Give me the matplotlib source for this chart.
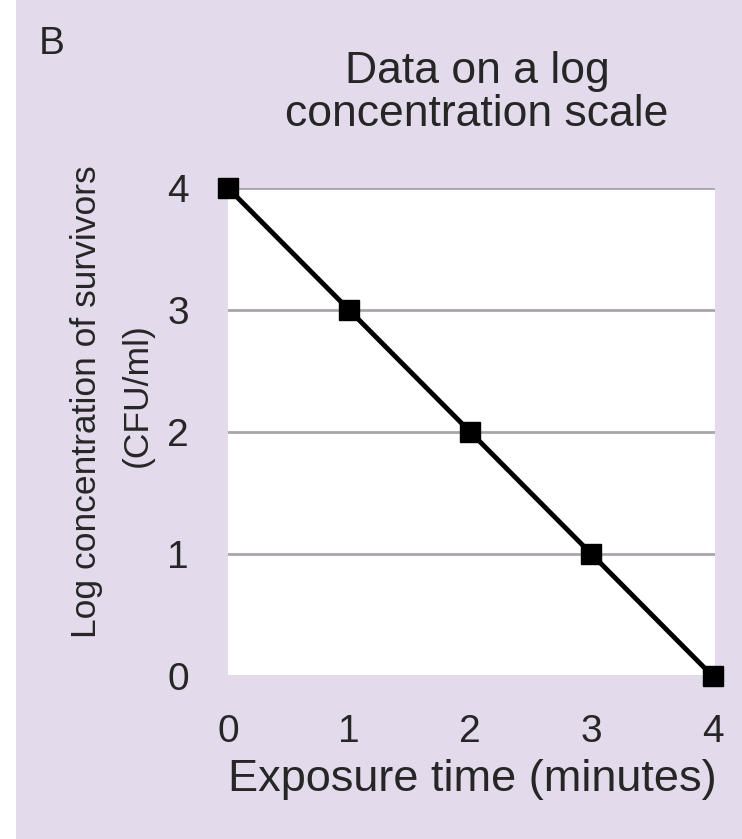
import matplotlib.pyplot as plt
import matplotlib

matplotlib.rcParams['font.family'] = ['Liberation Sans', 'DejaVu Sans']

# data
exposure_min = [0, 1, 2, 3, 4]
log_survivors = [4, 3, 2, 1, 0]
x_ticks = [0, 1, 2, 3, 4]
y_ticks = [0, 1, 2, 3, 4]

bg = '#e3dbeb'
ink = '#262626'

fig = plt.figure(figsize=(7.42, 8.39), dpi=100)
fig.patch.set_facecolor(bg)
# thin white strip on the left edge
fig.patches.append(matplotlib.patches.Rectangle((0, 0), 16 / 742, 1, transform=fig.transFigure,
                                                facecolor='white', edgecolor='none', zorder=0))

ax = fig.add_axes([228 / 742, 1 - 676 / 839, 487 / 742, 488 / 839])
ax.set_facecolor('white')

ax.plot(exposure_min, log_survivors, '-', color='black', linewidth=3.5, zorder=3,
        solid_capstyle='butt', clip_on=False)
ax.plot(exposure_min, log_survivors, 's', color='black', markersize=15, zorder=4, clip_on=False)

ax.set_xlim(0, 4.02)
ax.set_ylim(0, 4)
ax.set_xticks(x_ticks)
ax.set_yticks(y_ticks)
ax.tick_params(length=0, labelsize=28, labelcolor=ink)
ax.tick_params(axis='x', pad=27)
ax.tick_params(axis='y', pad=28)

for v in y_ticks[1:]:
    ax.axhline(v, color='#a9a5aa', linewidth=2, zorder=1)
ax.axhline(0, color='#e0d6d8', linewidth=2, zorder=1)

for s in ax.spines.values():
    s.set_visible(False)

fig.text(52 / 742, 1 - 44 / 839, 'B', fontsize=28, color=ink, ha='center', va='center')
fig.text(477 / 742, 1 - 93 / 839, 'Data on a log\nconcentration scale', fontsize=32,
         color=ink, ha='center', va='center', linespacing=1.05)
fig.text(87 / 742, 1 - 402 / 839, 'Log concentration of survivors', fontsize=25.5,
         color=ink, ha='center', va='center', rotation=90)
fig.text(137 / 742, 1 - 395 / 839, '(CFU/ml)', fontsize=25.5,
         color=ink, ha='center', va='center', rotation=90)
fig.text(472 / 742, 1 - 780 / 839, 'Exposure time (minutes)', fontsize=32.5,
         color=ink, ha='center', va='center')

fig.savefig('out.png', dpi=100, facecolor=fig.get_facecolor())
